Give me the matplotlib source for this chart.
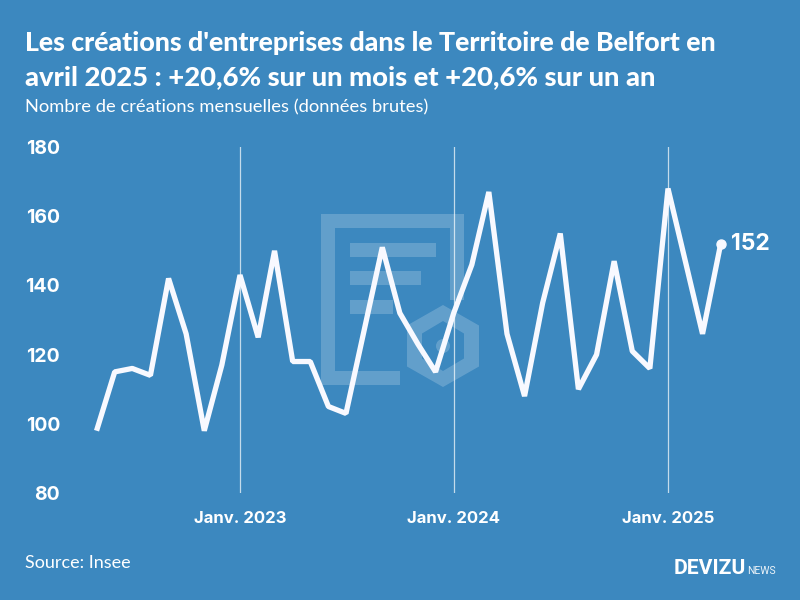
import matplotlib
matplotlib.use('Agg')
import matplotlib.pyplot as plt
import matplotlib.dates as mdates
from matplotlib.patches import Rectangle, Circle, PathPatch
from matplotlib.path import Path
import pandas as pd

BG = '#3c88bf'
WHITE = '#f8f9ff'

# monthly data
months = pd.date_range('2022-05-01', '2025-04-01', freq='MS')
creations = [98, 115, 116, 114, 142, 126, 98, 117,
             143, 125, 150, 118, 118, 105, 103, 127, 151, 132, 123, 115,
             132, 146, 167, 126, 108, 135, 155, 110, 120, 147, 121, 116,
             168, 146, 126, 152]
ytick_values = [80, 100, 120, 140, 160, 180]
xtick_dates = pd.to_datetime(['2023-01-01', '2024-01-01', '2025-01-01'])
xtick_labels = ['Janv. 2023', 'Janv. 2024', 'Janv. 2025']

plt.rcParams['font.family'] = ['Lato', 'DejaVu Sans']
WIDE = ['Inter', 'DejaVu Sans']

fig = plt.figure(figsize=(8, 6), dpi=100, facecolor=BG)

# axes placed in pixels, 0.5855 px per day
left, right, top, bottom = 60, 800, 147, 493
ax = fig.add_axes([left / 800, 1 - bottom / 600, (right - left) / 800, (bottom - top) / 600])
ax.set_facecolor('none')
ref = mdates.date2num(pd.Timestamp('2023-01-01'))
px_per_day = 428 / 731
ax.set_xlim(ref + (left - 240) / px_per_day, ref + (right - 240) / px_per_day)
ax.set_ylim(80, 180)

for s in ax.spines.values():
    s.set_visible(False)

ax.set_yticks(ytick_values)
ax.set_xticks(xtick_dates)
ax.set_xticklabels(xtick_labels)
ax.tick_params(axis='x', length=0, colors='white', labelsize=12, pad=13)
ax.tick_params(axis='y', length=0, colors='white', labelsize=14, pad=0)
for lab in ax.get_xticklabels() + ax.get_yticklabels():
    lab.set_fontweight('bold')
    lab.set_fontfamily(WIDE)

ax.grid(axis='x', color='white', alpha=0.7, linewidth=0.9)
ax.set_axisbelow(True)

ax.plot(months, creations, color=WHITE, linewidth=3.8, solid_joinstyle='bevel',
        solid_capstyle='butt', zorder=3)
ax.plot(months[-1], creations[-1], 'o', color=WHITE, markersize=6.5, zorder=4)
ax.annotate(str(creations[-1]), (months[-1], creations[-1]), xytext=(7.5, 0),
            textcoords='offset points', va='center', ha='left', color='white',
            fontsize=16.5, fontweight='bold', family=WIDE)

# watermark logo behind the line, in figure pixels
def px_rect(x0, y0, x1, y1):
    fig.add_artist(Rectangle((x0 / 800, 1 - y1 / 600), (x1 - x0) / 800, (y1 - y0) / 600,
                             transform=fig.transFigure, color='white', alpha=0.2, lw=0, zorder=0))

px_rect(321, 214, 464, 228)
px_rect(321, 228, 335, 385)
px_rect(335, 371, 400, 385)
px_rect(450, 228, 464, 300)
px_rect(350, 243, 436, 257)
px_rect(350, 271, 421, 285)
px_rect(350, 300, 393, 314)

def hex_pts(cx, cy, rx, ry):
    return [(cx, cy - ry), (cx + rx, cy - ry / 2), (cx + rx, cy + ry / 2),
            (cx, cy + ry), (cx - rx, cy + ry / 2), (cx - rx, cy - ry / 2), (cx, cy - ry)]

outer = hex_pts(443, 346, 36, 41)
inner = hex_pts(443, 346, 21, 25)[::-1]
verts = [(x / 800, 1 - y / 600) for x, y in outer + inner]
codes = [Path.MOVETO] + [Path.LINETO] * 5 + [Path.CLOSEPOLY] + [Path.MOVETO] + [Path.LINETO] * 5 + [Path.CLOSEPOLY]
fig.add_artist(PathPatch(Path(verts, codes), transform=fig.transFigure, color='white',
                         alpha=0.2, lw=0, zorder=0))
dot = Circle((443, 600 - 346), 7, transform=None, color='white', alpha=0.2, lw=0, zorder=0)
fig.add_artist(dot)

# texts
fig.text(25 / 800, 1 - 51 / 600, "Les créations d'entreprises dans le Territoire de Belfort en",
         color='white', fontsize=19.3, fontweight='black', va='baseline')
fig.text(25 / 800, 1 - 85 / 600, "avril 2025 : +20,6% sur un mois et +20,6% sur un an",
         color='white', fontsize=19.75, fontweight='black', va='baseline')
fig.text(25 / 800, 1 - 112 / 600, "Nombre de créations mensuelles (données brutes)",
         color='white', fontsize=13.2, va='baseline')
fig.text(25 / 800, 1 - 568 / 600, "Source: Insee", color='white', fontsize=13, va='baseline')
fig.text(674 / 800, 1 - 574 / 600, "DEVIZU", color='white', fontsize=15.2, fontweight='bold',
         va='baseline', family=['Roboto', 'DejaVu Sans'])
fig.text(747 / 800, 1 - 574 / 600, "NEWS", color='white', fontsize=7.5, alpha=0.9,
         va='baseline', family=['Roboto', 'DejaVu Sans'])

fig.savefig('out.png', dpi=100, facecolor=BG)
